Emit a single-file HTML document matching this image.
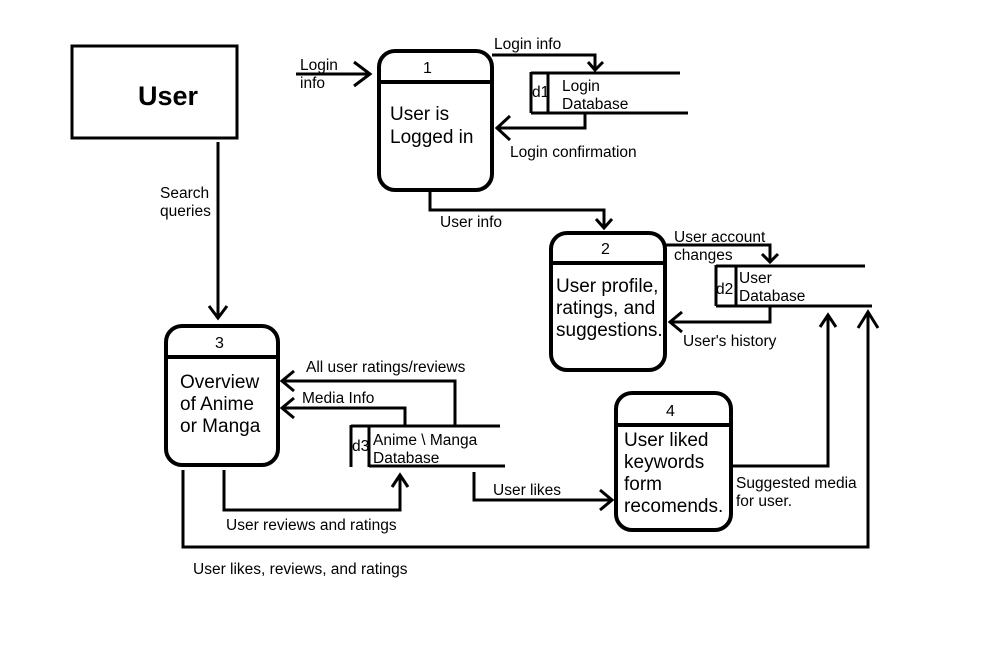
<!DOCTYPE html>
<html><head><meta charset="utf-8"><style>
html,body{margin:0;padding:0;background:#fff;}
svg{display:block;}
text{font-family:"Liberation Sans",sans-serif;fill:#000;}
</style></head><body>
<svg width="992" height="648" viewBox="0 0 992 648" xmlns="http://www.w3.org/2000/svg">
<rect width="992" height="648" fill="#fff"/>
<g fill="none" stroke="#000" stroke-width="3">
<rect x="72" y="46" width="165" height="92"/>
<g stroke-width="4">
<rect x="379" y="51" width="113" height="139" rx="16"/>
<line x1="379" y1="82" x2="492" y2="82"/>
<rect x="551" y="233" width="114" height="137" rx="16"/>
<line x1="551" y1="263" x2="665" y2="263"/>
<rect x="166" y="326" width="112" height="139" rx="16"/>
<line x1="166" y1="357" x2="278" y2="357"/>
<rect x="616" y="393" width="115" height="137" rx="16"/>
<line x1="616" y1="425" x2="731" y2="425"/>
</g>
<path d="M531 72 V113 M548 72 V113 M531 73 H680 M531 113 H688"/>
<path d="M716 265 V306 M736 265 V306 M716 266 H865 M716 306 H872"/>
<path d="M351 425 V467 M369 425 V467 M351 426 H500 M369 466 H505"/>
<path d="M296 74 H370 M354 62 L370 74 L354 86"/>
<path d="M492 55 H595 V70 M588 62 L595 70 L603 62"/>
<path d="M585 113 V128 H497 M510 116 L497 128 L510 140"/>
<path d="M430 190 V210 H604 V228 M596 219 L604 228 L612 219"/>
<path d="M665 245 H770 V262 M762 254 L770 262 L778 254"/>
<path d="M770 306 V322 H670 M682 312 L670 322 L682 332"/>
<path d="M218 142 V318 M209 306 L218 318 L227 306"/>
<path d="M455 425 V381 H282 M294 371 L282 381 L294 391"/>
<path d="M405 425 V408 H282 M294 398 L282 408 L294 418"/>
<path d="M224 470 V510 H400 V475 M392 487 L400 475 L408 487"/>
<path d="M474 472 V500 H612 M600 490 L612 500 L600 510"/>
<path d="M732 466 H828 V315 M820 327 L828 315 L836 327"/>
<path d="M183 470 V547 H868 V312 M858 328 L868 312 L878 328"/>
</g>
<text x="138" y="105" font-size="27" font-weight="bold">User</text>
<g font-size="15.5">
<text x="300" y="70">Login</text><text x="300" y="88">info</text>
<text x="494" y="49">Login info</text>
<text x="532" y="97">d1</text>
<text x="562" y="91">Login</text><text x="562" y="109">Database</text>
<text x="510" y="157">Login confirmation</text>
<text x="440" y="227">User info</text>
<text x="674" y="242">User account</text><text x="674" y="260">changes</text>
<text x="716" y="294">d2</text>
<text x="739" y="283">User</text><text x="739" y="301">Database</text>
<text x="683" y="346">User's history</text>
<text x="160" y="198">Search</text><text x="160" y="216">queries</text>
<text x="306" y="372">All user ratings/reviews</text>
<text x="302" y="403">Media Info</text>
<text x="352" y="451">d3</text>
<text x="373" y="445">Anime \ Manga</text><text x="373" y="463">Database</text>
<text x="226" y="530">User reviews and ratings</text>
<text x="493" y="495">User likes</text>
<text x="736" y="488">Suggested media</text><text x="736" y="506">for user.</text>
<text x="193" y="574">User likes, reviews, and ratings</text>
</g>
<g font-size="16">
<text x="423" y="73">1</text>
<text x="601" y="254">2</text>
<text x="215" y="348">3</text>
<text x="666" y="416">4</text>
</g>
<g font-size="19">
<text x="390" y="120">User is</text><text x="390" y="143">Logged in</text>
<text x="556" y="292">User profile,</text><text x="556" y="314">ratings, and</text><text x="556" y="336">suggestions.</text>
<text x="180" y="388">Overview</text><text x="180" y="410">of Anime</text><text x="180" y="432">or Manga</text>
<text x="624" y="446">User liked</text><text x="624" y="468">keywords</text><text x="624" y="490">form</text><text x="624" y="512">recomends.</text>
</g>
</svg>
</body></html>
